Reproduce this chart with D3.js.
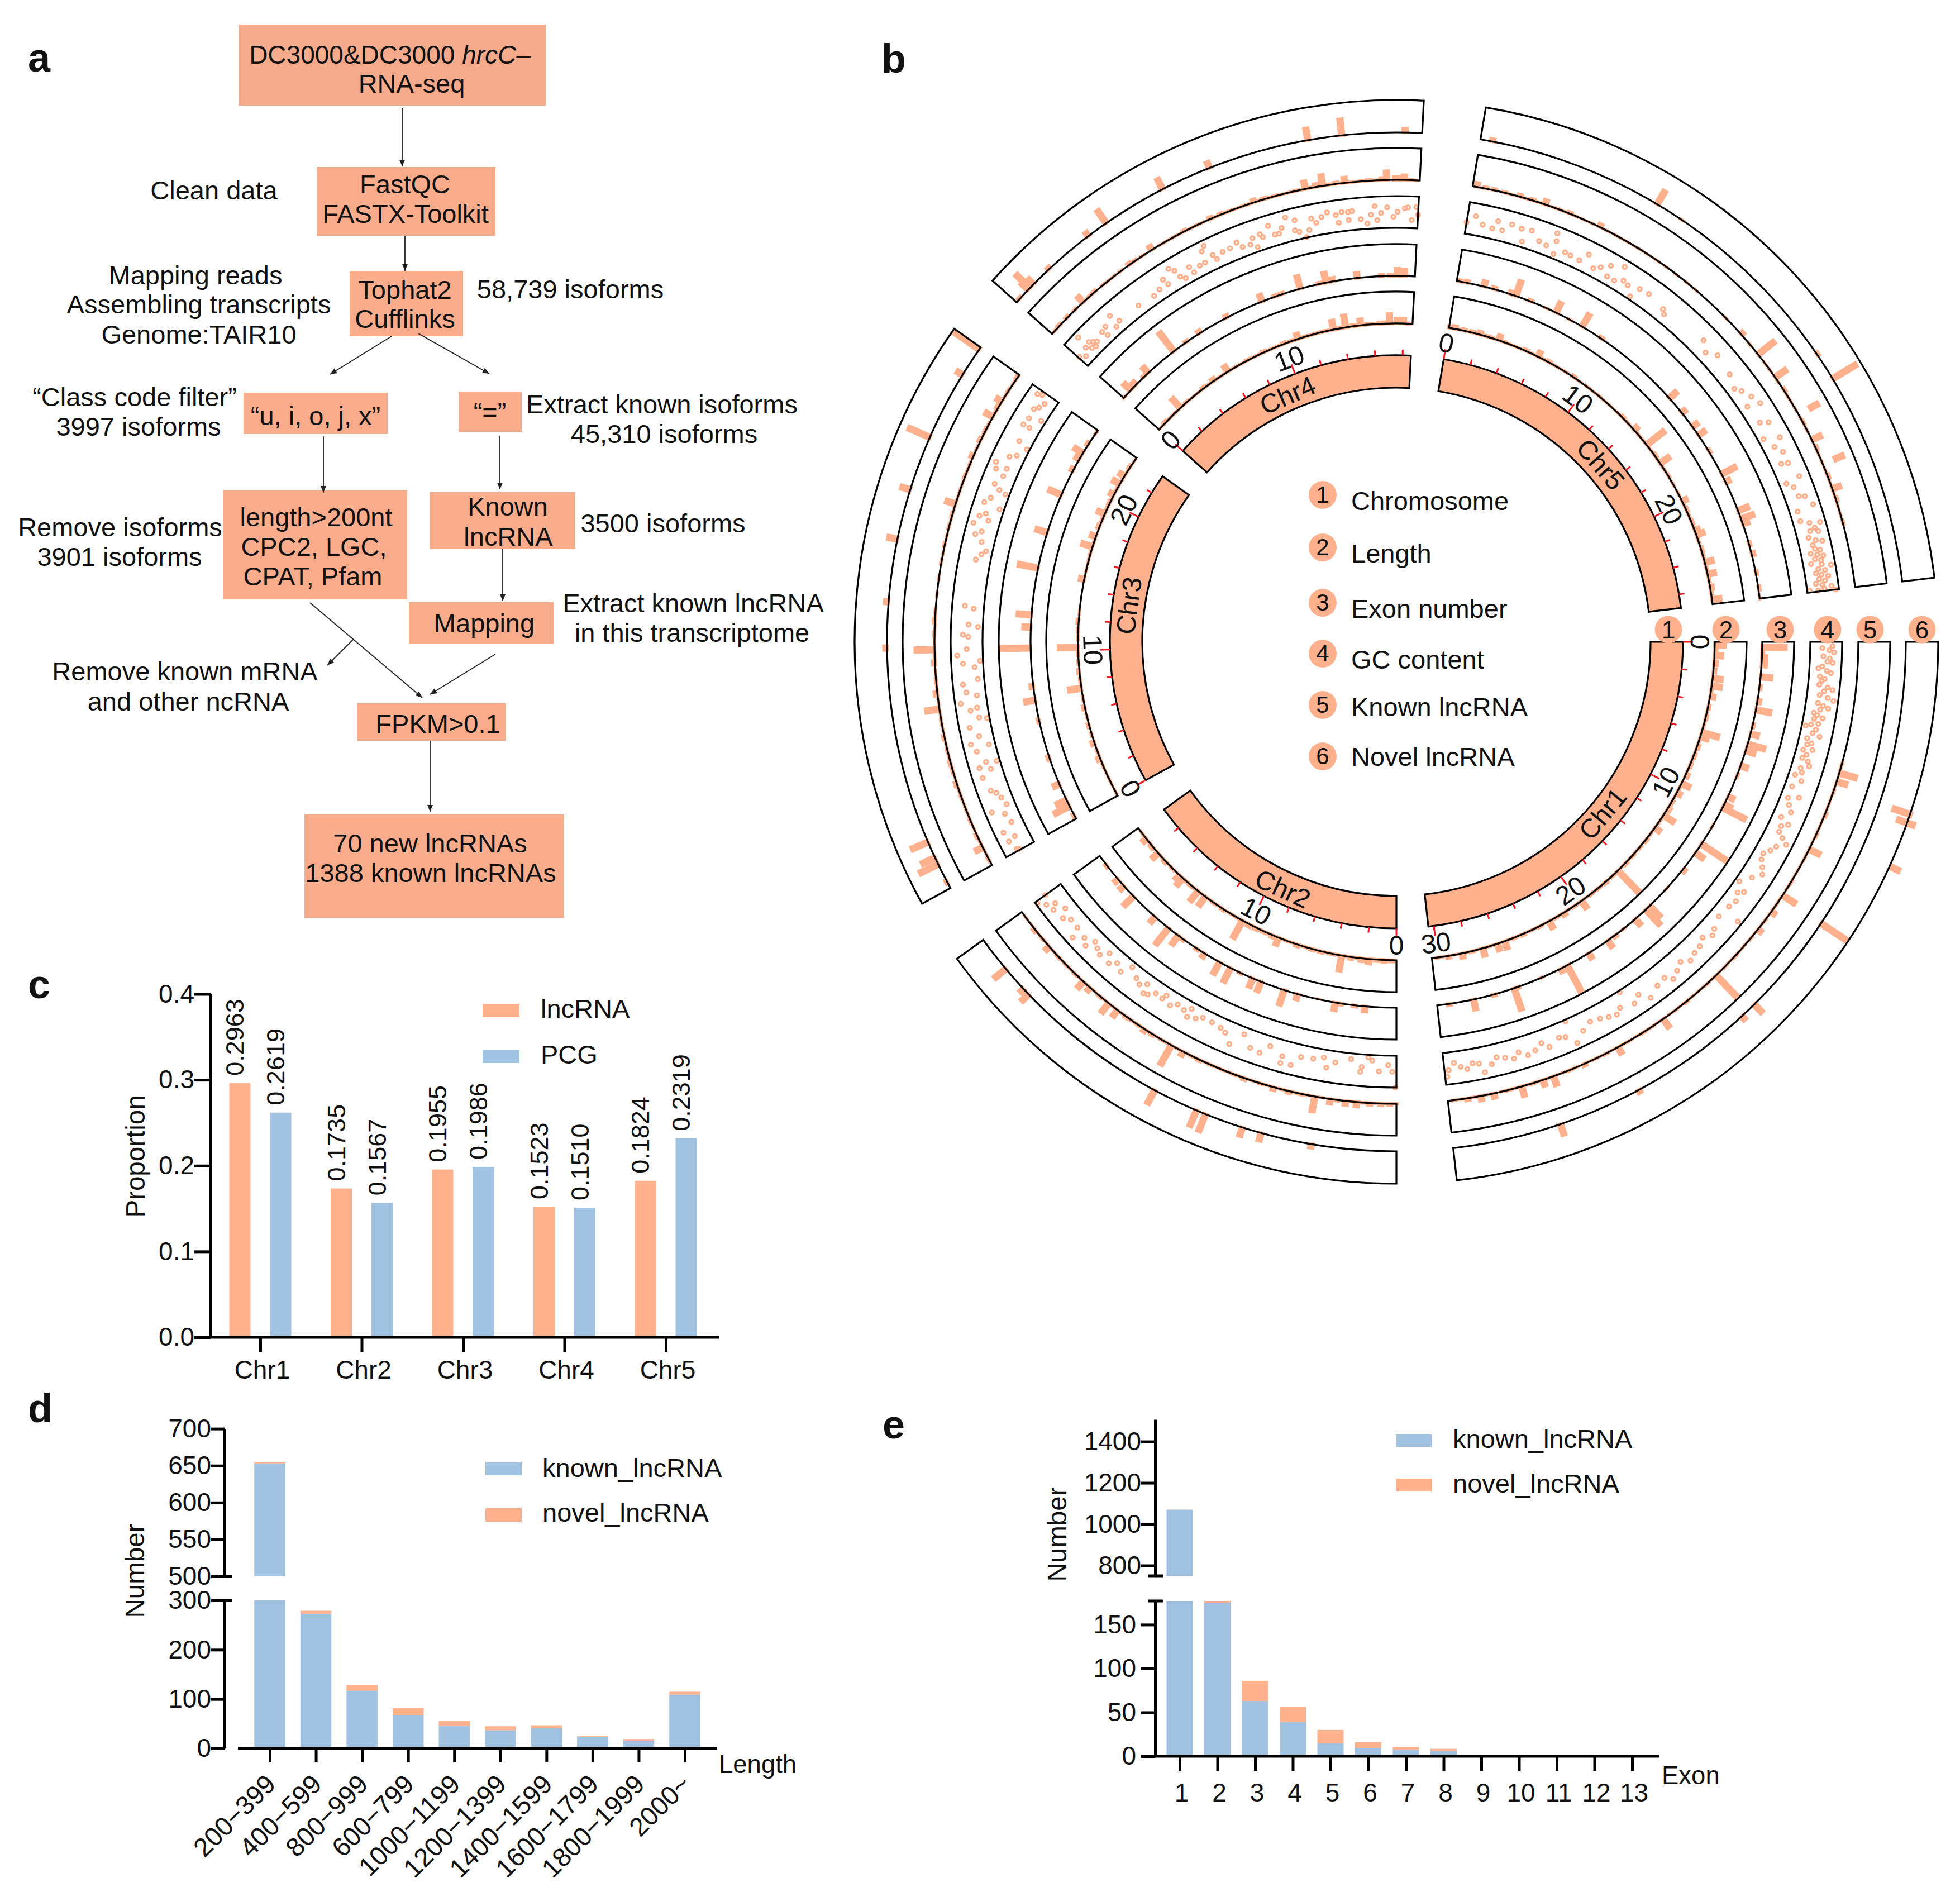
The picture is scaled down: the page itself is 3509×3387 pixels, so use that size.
<!DOCTYPE html>
<html><head><meta charset="utf-8"><style>html,body{margin:0;background:#fff}text{font-family:"Liberation Sans",Arial,sans-serif;fill:#111}</style>
<script src="https://cdn.jsdelivr.net/npm/d3@7/dist/d3.min.js"></script></head><body><svg id="c" width="3509" height="3387" xmlns="http://www.w3.org/2000/svg"></svg>
<script>
// ---------- panel c
const chrCats=["Chr1","Chr2","Chr3","Chr4","Chr5"];
const lncProp=[0.2963,0.1735,0.1955,0.1523,0.1824];
const pcgProp=[0.2619,0.1567,0.1986,0.1510,0.2319];
// ---------- panel d
const lenCats=["200−399","400−599","800−999","600−799","1000−1199","1200−1399","1400−1599","1600−1799","1800−1999","2000~"];
const lenKnown=[653,273,117,67,46,37,41,24,16,109];
const lenNovel=[2,6,12,15,10,8,6,1,3,6];
// ---------- panel e
const exonCats=["1","2","3","4","5","6","7","8","9","10","11","12","13"];
const exonKnown=[1070,175,63,39,15,9.5,7.5,6,0,0,0,0,0];
const exonNovel=[1,2,23,17,15,6.5,3,2.5,0,0,0,0,0];
// ---------- panel b: chromosomes
const chrLen=[30.4,19.7,23.45,18.6,27];
const chrStartDeg=[0,90,151.1,221.8,279.5];
const chrEndDeg=[83.6,144.2,215.3,272.9,353.2];
const legendItems=["Chromosome","Length","Exon number","GC content","Known lncRNA","Novel lncRNA"];
// track values: [Mb, height] or [Mb, low, high], heights as fraction of track range
const chr1Length=[[.2,.37],[.5,.12],[.9,.3],[1.4,.15],[1.9,.12],[2.4,.35],[2.9,.35],[3.6,.2],[4.3,.1],[5,.1],[6,.6],[6.3,.3],[7,.12],[7.6,.1],[8.3,.1],[9,.15],[9.6,.33],[10.3,.2],[11,.1],[11.5,.15],[12,.44],[13,.25],[14,.1],[14.6,.08],[15.3,.08],[16,.1],[16.7,1],[17.2,.08],[17.8,.1],[18.4,.08],[19,.08],[19.8,.33],[20.4,.08],[21.2,.15],[21.8,.08],[22.3,.3],[23,.08],[23.6,.06],[24.2,.1],[24.8,.08],[25.5,.3],[26,.27],[27,.3],[27.7,.08],[28.4,.2],[29.3,.12],[30,.06],[3.2,.08],[4.7,.06],[5.5,.07],[6.7,.06],[7.3,.06],[8,.07],[8.7,.06],[10,.07],[10.7,.06],[12.5,.07],[13.5,.06],[15,.05],[15.7,.06],[16.3,.06],[18.1,.05],[18.7,.06],[19.4,.05],[20.1,.06],[20.8,.05],[21.5,.06],[22.7,.05],[23.3,.05],[23.9,.05],[24.5,.06],[25.1,.05],[26.4,.06],[26.7,.05],[27.4,.05],[28,.06],[28.8,.05],[29.7,.05]];
const chr1Exon=[[.3,.8],[.6,.1],[.9,.2],[1.3,.2],[2,.4],[2.6,.1],[3.4,.15],[3.9,.52],[4.8,.1],[5.3,.3],[5.9,.6],[6.3,.35],[7.2,.27],[7.8,.08],[9.1,.25],[9.6,.3],[9.8,.85],[11,.05],[12.2,1],[12.8,.36],[14,.15],[15.4,.05],[16.8,.53],[17.1,.7],[17.9,.3],[18.8,.06],[19.4,.12],[19.9,.3],[21.2,.25],[22.6,1],[23,.18],[24.2,.05],[25.7,.1],[25.9,.77],[27.1,.1],[28.3,.38],[29.7,.1]];
const chr1GC=[[.2,.7],[.3,.38],[.4,.6],[.5,.75],[.7,.42],[.8,.62],[.95,.55],[1,.72],[1.2,.4],[1.3,.28],[1.4,.55],[1.5,.68],[1.7,.35],[1.8,.5],[1.9,.42],[2.1,.35],[2.2,.62],[2.3,.78],[2.4,.52],[2.6,.4],[2.7,.66],[2.8,.85],[3,.38],[3.1,.55],[3.2,.72],[3.3,.48],[3.5,.3],[3.6,.42],[3.7,.6],[3.8,.34],[4,.5],[4.1,.28],[4.2,.12],[4.3,.46],[4.5,.38],[4.6,.62],[4.8,.25],[5,.42],[5.1,.3],[5.3,.5],[5.4,.22],[5.6,.36],[5.8,.26],[5.9,.46],[6.1,.54],[6.3,.3],[6.5,.38],[6.7,.2],[6.9,.45],[7.3,.23],[7.7,.56],[7.9,.24],[8.2,.35],[8.5,.5],[8.9,.28],[9.1,.58],[9.3,.4],[9.6,.42],[9.8,.6],[10,.8],[10.3,.55],[10.6,.45],[10.9,.3],[11.2,.35],[11.5,.5],[11.8,.62],[12.2,.4],[12.7,.14],[13,.45],[13.2,.3],[13.6,.42],[14,.35],[14.3,.86],[14.7,.3],[15.3,.45],[15.6,.55],[16,.37],[16.4,.5],[16.8,.53],[17.2,.62],[17.6,.44],[18,.58],[18.4,.7],[18.7,.5],[19.2,.56],[19.8,.74],[20.2,.44],[20.6,.6],[20.9,.05],[21.3,.47],[21.6,.6],[22,.54],[22.4,.45],[22.9,.39],[23.4,.55],[23.9,.82],[24,.05],[24.3,.5],[24.6,.44],[25.2,.6],[25.5,.4],[25.9,.55],[26.3,.62],[26.7,.45],[27,.6],[27.4,.5],[27.8,.42],[28.1,.6],[28.5,.8],[28.7,.5],[29,.45],[29.3,.6],[29.6,.5],[29.9,.35],[30.2,.55],[30.3,.75]];
const chr1Known=[[5.6,.06],[6,.6],[6.4,.38],[6.9,.07],[7.4,.05],[8,.1],[8.5,.05],[9,.08],[9.7,.42],[10.2,.06],[10.8,.05],[11.4,.07],[12.1,.52],[12.6,.06],[13,.2],[13.5,.07],[14,.2],[14.5,.06],[15,.05],[15.6,.07],[16.2,.06],[16.8,1],[17.4,.07],[18,.05],[18.6,.08],[19.2,.06],[19.9,.37],[20.5,.06],[21,.07],[21.7,.06],[22.3,.28],[22.9,.07],[23.5,.06],[24,.12],[24.7,.07],[25.5,.35],[26,.25],[26.5,.07],[27,.37],[27.6,.07],[28.3,.2],[28.9,.2],[29.5,.12],[30.1,.06],[5.9,.04],[6.7,.04],[7.2,.04],[7.7,.05],[8.3,.04],[8.8,.04],[9.3,.04],[10,.04],[10.5,.04],[11.1,.04],[11.7,.05],[12.4,.04],[12.8,.05],[13.3,.04],[13.8,.04],[14.2,.04],[14.8,.04],[15.3,.05],[15.9,.04],[16.5,.04],[17.1,.05],[17.7,.04],[18.3,.05],[18.9,.04],[19.5,.05],[20.2,.04],[20.8,.05],[21.3,.04],[22,.05],[22.6,.04],[23.2,.05],[23.8,.04],[24.4,.05],[25,.05],[25.3,.04],[25.8,.05],[26.3,.05],[26.8,.05],[27.3,.05],[27.9,.05],[28.6,.05],[29.2,.05],[29.8,.05]];
const chr1Novel=[[6.75,.4,1.08],[7.1,.64,1.28],[8.9,1,1.38],[12.2,1],[16.5,.4],[17.2,.2],[22.4,.15],[25.9,.4]];
const chr2Length=[[.3,.1],[.8,.12],[1.3,.1],[1.8,.2],[2.3,.15],[3,.12],[3.6,.54],[4.2,.08],[5,.1],[5.6,.1],[6.6,.12],[7.2,.06],[7.9,.3],[8.3,.13],[8.9,.1],[9.5,.12],[10,.14],[10.5,.67],[11.2,.06],[12,.1],[12.7,.08],[13.4,.4],[14,.45],[14.6,.1],[15.3,.35],[15.6,.25],[16.2,.08],[16.9,.12],[17.6,.3],[18.2,.12],[18.8,.2],[19.3,.05],[.55,.06],[1,.06],[1.55,.06],[2,.07],[2.65,.06],[3.3,.06],[3.9,.06],[4.5,.06],[4.75,.05],[5.3,.06],[6,.06],[6.3,.06],[6.9,.05],[7.5,.06],[8.6,.07],[9.2,.08],[9.75,.08],[10.25,.07],[10.8,.07],[11.5,.06],[12.3,.05],[13,.06],[13.7,.06],[14.3,.07],[14.9,.08],[16.6,.06],[17.2,.07],[17.9,.06],[18.5,.06],[19,.06]];
const chr2Exon=[[1.8,.22],[2.4,.1],[3.2,.1],[3.5,.3],[4.5,.03],[5.7,.23],[6.5,.54],[7.9,.38],[8.4,.35],[9.2,.08],[9.8,.54],[10.5,.47],[11.5,.2],[12,.1],[13,.1],[13.3,.4],[14,.7],[15,.28],[16.7,.47],[17.5,.22],[18,.2],[19,.1]];
const chr2GC=[[.05,1],[.2,.5],[.4,.3],[.85,.5],[1.2,.17],[1.4,.08],[1.7,.4],[1.75,.55],[2.25,.18],[3,.35],[3.4,.55],[3.6,.25],[4.1,.35],[4.7,.38],[5.1,.7],[5.6,.72],[5.6,.5],[6.3,.3],[6.7,.6],[7.2,.55],[7.7,.22],[8.2,.68],[8.6,.4],[8.9,.32],[9.4,.28],[9.9,.28],[10.2,.4],[10.6,.49],[10.6,.2],[10.9,.35],[11.3,.3],[11.6,.45],[12,.25],[12.1,.4],[12.5,.38],[12.8,.55],[13,.6],[13.1,.3],[13.4,.45],[13.7,.35],[14.2,.16],[14.5,.5],[14.9,.37],[15.2,.55],[15.5,.3],[15.8,.54],[16.1,.45],[16.4,.35],[16.6,.65],[16.9,.51],[17.3,.77],[17.5,.45],[18,.44],[18.3,.6],[18.6,.35],[18.9,.67],[19.1,.5],[19.3,.75],[19.6,.95],[19.7,.6]];
const chr2Known=[[.3,.1],[.7,.1],[1.2,.12],[1.8,.2],[2.3,.18],[2.7,.08],[3,.2],[3.7,.53],[4.3,.08],[4.9,.12],[5.6,.15],[6.2,.07],[7,.12],[7.5,.07],[8,.06],[8.6,.07],[9.2,.1],[9.6,.07],[10,.2],[10.6,.75],[11.1,.07],[11.6,.1],[12,.15],[12.4,.07],[12.8,.08],[13,.1],[13.5,.3],[14,.42],[14.5,.08],[15.1,.2],[15.5,.32],[16,.08],[16.6,.07],[17.1,.08],[17.7,.22],[18.2,.07],[18.7,.12],[19.4,.05],[.05,.05],[.5,.05],[.95,.05],[1.5,.06],[2,.05],[3.4,.05],[4,.05],[4.6,.06],[5.25,.06],[5.9,.05],[6.5,.05],[6.75,.05],[7.25,.05],[7.75,.05],[8.3,.05],[8.9,.05],[9.4,.06],[9.8,.05],[10.3,.06],[10.85,.06],[11.35,.05],[11.8,.06],[12.2,.05],[12.6,.05],[13.25,.06],[13.75,.06],[14.25,.05],[14.8,.05],[15.3,.06],[15.75,.05],[16.3,.05],[16.85,.05],[17.4,.05],[17.95,.05],[18.45,.05],[19,.04]];
const chr2Novel=[[3.5,.17],[5.6,.3],[6.4,.33],[8,.62],[8.4,.58],[10.3,.52],[16.8,.35],[17.1,.2],[18.2,.5]];
const chr3Length=[[.3,.05],[1.8,.05],[2.7,.15],[3.8,.15],[5,.1],[6.2,.12],[7.5,.46],[8.6,.1],[10.2,.67],[11.9,.1],[12.5,.05],[14.7,.2],[16.9,.4],[17.6,.23],[18.3,.12],[19.2,.3],[20,.1],[20.6,.2],[21.4,.3],[22,.24],[22.7,.1],[23.2,.05],[.9,.05],[1.3,.05],[2.2,.06],[3.2,.07],[4.4,.07],[5.6,.06],[6.8,.06],[8,.07],[9.2,.07],[9.8,.07],[10.8,.06],[11.3,.07],[15.3,.05],[15.9,.06],[16.4,.07],[17.2,.07],[18.8,.08],[19.6,.08],[20.3,.07],[21,.08],[21.7,.07],[22.4,.06]];
const chr3Exon=[[.2,.1],[.8,.58],[1.2,.4],[2.2,.25],[3.8,.12],[6,.1],[7.2,.38],[8,.15],[10.2,1],[11.4,.3],[12.1,.5],[14.8,.68],[16.9,.42],[19.2,.47],[20.8,.15],[21.5,.2],[21.9,.37],[22.5,.12],[23.3,.06]];
const chr3GC=[[.05,.51],[.1,.58],[.7,.45],[.6,.69],[1.1,.72],[1.4,.35],[1.9,.43],[2.7,.34],[2.3,.26],[2.2,.79],[3,.43],[3.2,.57],[3.9,.68],[4.2,.35],[4.4,.68],[4.6,.43],[5.2,.62],[4.5,.1],[5.6,.75],[5.4,.2],[5.9,.44],[6.4,.67],[6.7,.08],[6.8,.32],[7.2,.55],[7.3,.33],[7.6,.82],[8.1,.6],[7.9,.28],[8.5,.68],[8.7,.2],[9.9,.8],[9.5,.63],[9.3,.27],[10.2,.5],[9.6,.09],[11.3,.15],[11.4,.45],[10.9,.62],[10.8,.45],[12.3,.6],[12.2,.32],[14.6,.46],[14.9,.32],[15.1,.2],[15.5,.4],[15.8,.65],[16,.48],[16.3,.8],[16.7,.68],[16.9,.51],[16.6,.37],[17.3,.14],[17.4,.67],[17.7,.52],[18.2,.35],[18.1,.12],[18.4,.56],[18.9,.4],[19.1,.7],[19.3,.39],[19.4,.79],[19.9,.47],[20.1,.28],[20.6,.09],[20.8,.42],[21.6,.56],[21.6,.34],[22,.51],[22.2,.14],[22.5,.53],[22.7,.42],[23,.34],[23.2,.7],[23.3,.56]];
const chr3Known=[[.3,.08],[.9,.3],[1.5,.1],[2.2,.08],[2.8,.06],[3.4,.07],[4,.12],[4.6,.08],[5,.1],[5.6,.07],[6.2,.1],[6.9,.07],[7.5,.48],[8.2,.15],[8.8,.07],[9.6,.12],[10.2,.66],[10.9,.07],[11.5,.1],[12,.06],[12.7,.05],[13.5,.05],[14.2,.07],[15,.08],[15.8,.07],[16.4,.08],[16.9,.37],[17.5,.06],[18.2,.08],[18.8,.07],[19.2,.15],[20,.12],[20.5,.09],[21.2,.33],[21.7,.12],[22,.25],[22.6,.08],[23.3,.1],[.6,.05],[1.2,.06],[1.85,.05],[2.5,.05],[3.1,.05],[3.7,.06],[4.3,.05],[4.8,.06],[5.3,.06],[5.9,.05],[6.55,.05],[7.2,.05],[7.85,.05],[8.5,.05],[9.2,.05],[9.9,.06],[10.55,.05],[11.2,.05],[11.8,.05],[14.6,.05],[15.4,.05],[16.1,.05],[16.65,.05],[17.2,.05],[17.85,.05],[18.5,.06],[19.6,.06],[20.25,.06],[20.8,.07],[21.45,.07],[22.3,.06],[23,.06]];
const chr3Novel=[[.3,.1],[1.1,.68],[1.4,.5],[2.1,.6],[10.3,.15],[12.2,.17],[14.8,.35],[16.9,.35],[19.2,.77],[22.1,.26],[23.35,.98]];
const chr4Length=[[.6,.1],[1.4,.06],[2,.45],[2.6,.08],[3.4,.05],[4,.1],[4.8,.15],[5.9,.27],[6.6,.06],[7.4,.08],[8.6,.1],[9.3,.06],[10,.1],[10.6,.08],[11,.23],[11.8,.07],[12.6,.08],[13.4,.35],[14.2,.44],[14.7,.1],[15.2,.25],[15.7,.08],[16.5,.1],[16.9,.1],[17.1,.35],[17.6,.2],[18,.2],[18.4,.05],[.2,.05],[1,.06],[1.7,.05],[2.3,.06],[3,.05],[3.7,.05],[4.4,.06],[5.2,.06],[5.6,.06],[6.3,.06],[7,.05],[7.8,.06],[8.2,.06],[9,.06],[9.6,.06],[10.3,.07],[11.4,.07],[12.2,.07],[13,.07],[13.7,.08],[14,.08],[14.4,.08],[15,.08],[15.5,.07],[16,.07],[16.3,.07],[17.4,.08],[17.8,.08],[18.2,.07]];
const chr4Exon=[[.1,.05],[.6,.35],[1,.2],[1.7,.1],[2,.3],[3.9,.8],[4.8,.1],[5.7,.15],[7.5,.14],[9.7,.28],[10.5,.1],[10.9,.1],[12,.47],[13.1,.1],[13.5,.38],[13.9,.17],[15.3,.22],[16.7,.1],[17.2,.1],[17.6,.28],[18,.25]];
const chr4GC=[[.05,.39],[.3,.25],[.7,.83],[.6,.44],[.9,.49],[1.05,.4],[1.2,.32],[.8,.29],[1,.23],[1.7,.42],[1.8,.23],[2,.47],[2.4,.24],[2.5,.63],[2.7,.32],[3.9,.31],[4.8,.27],[5.2,.34],[5.6,.53],[5.7,.33],[6.1,.73],[6.3,.58],[6.4,.33],[6.6,.2],[7,.45],[7.1,.23],[7.5,.33],[7.8,.34],[7.9,.7],[8.1,.83],[8.3,.45],[8.4,.28],[8.8,.41],[9.2,.42],[9.6,.51],[9.8,.31],[10.2,.29],[10.5,.14],[10.4,.46],[10.9,.39],[10.8,.5],[11.3,.67],[11.5,.35],[11.7,.34],[11.9,.49],[12.2,.78],[12.6,.62],[12.5,.31],[13,.02],[13.2,.22],[12.7,.23],[13.4,.56],[13.6,.4],[13.9,.55],[14.2,.66],[14.6,.54],[14.7,.29],[14.9,.61],[15.2,.58],[15.2,.33],[15.4,.6],[15.8,.32],[16.1,.17],[16.3,.44],[16.5,.7],[16.6,.26],[16.8,.48],[17.1,.65],[17.4,.35],[17.6,.51],[17.95,.62],[18.1,.65],[18.3,.26],[18.5,.67],[18.6,.43]];
const chr4Known=[[.2,.06],[.5,.1],[1,.1],[1.5,.07],[2,.3],[2.4,.08],[2.7,.1],[3.2,.06],[3.8,.06],[4.2,.06],[4.7,.12],[5,.08],[5.4,.06],[5.9,.2],[6.4,.05],[7,.06],[7.6,.1],[8.2,.06],[8.9,.12],[9.4,.1],[9.9,.06],[10.4,.06],[11,.15],[11.5,.1],[12,.07],[12.6,.05],[13,.07],[13.4,.3],[13.9,.15],[14.2,.4],[14.8,.1],[15.2,.22],[15.7,.05],[16.3,.08],[16.9,.12],[17.1,.33],[17.5,.15],[17.7,.15],[17.9,.2],[18.4,.05],[3.5,.05],[6.7,.05],[7.3,.05],[7.9,.05],[8.5,.05],[9.15,.06],[9.65,.06],[10.15,.05],[10.7,.06],[11.25,.07],[11.75,.06],[12.3,.05],[12.8,.06],[13.2,.06],[13.65,.07],[14.5,.07],[15,.06],[15.45,.06],[16,.06],[16.6,.06],[18.15,.06]];
const chr4Novel=[[.2,.1],[.7,.35],[.8,.65],[1,.3],[1.9,.13],[4,.2],[4.9,.53],[7.6,.41],[9.7,.25],[13.9,.42],[15.3,.55],[17.9,.17]];
const chr5Length=[[.1,.1],[.4,.14],[1,.1],[1.6,.1],[2.1,.15],[2.7,.08],[3.4,.22],[3.7,.08],[4.4,.05],[5.3,.1],[6.2,.23],[7,.1],[7.8,.05],[8.9,.1],[10,.06],[11,.06],[12,.05],[13.1,.1],[14.2,.2],[15.5,.75],[16.4,.1],[17,.4],[18,.08],[19.9,.22],[20.5,.1],[21.4,.1],[22,.2],[22.3,.3],[23.3,.1],[24.2,.32],[25,.3],[25.9,.15],[26.7,.33],[.7,.06],[1.3,.06],[1.85,.07],[2.4,.07],[3,.07],[4,.06],[4.8,.05],[5.7,.06],[6.6,.07],[7.4,.06],[8.3,.06],[9.4,.05],[10.5,.05],[11.5,.05],[12.6,.05],[13.6,.06],[14.7,.06],[15.1,.06],[15.9,.06],[16.7,.06],[17.5,.06],[18.6,.06],[19.3,.06],[20.2,.06],[21,.07],[21.7,.07],[22.7,.07],[23.7,.08],[24.6,.08],[25.4,.08],[26.2,.08]];
const chr5Exon=[[.2,.1],[.6,.12],[1.6,.23],[2.2,.12],[3.2,.15],[3.5,.55],[4.4,.1],[5.4,.05],[6,.4],[6.9,.05],[7.7,.5],[9,.1],[14.2,.35],[15.3,.2],[16.3,.25],[16.9,.3],[18,.1],[19.5,.55],[20,.2],[21.8,.4],[22.3,.47],[22.6,.25],[23.8,.1],[24.4,.15],[25.5,.1],[26.4,.1],[26.9,.05]];
const chr5GC=[[0,.36],[.4,.6],[.8,.38],[1.3,.33],[1.5,.59],[1.8,.34],[2.2,.6],[2.7,.56],[2.9,.18],[3.2,.6],[3.7,.36],[4.1,.31],[4.4,.79],[4.5,.55],[4.6,.14],[5.1,.33],[5.4,.31],[5.9,.29],[6.2,.58],[6.7,.26],[7.4,.6],[7,.4],[7.5,.25],[8,.79],[7.9,.25],[8.3,.4],[8.6,.35],[9,.1],[9.2,.46],[9.7,.5],[10.7,.39],[10.9,.28],[13.2,.52],[13.7,.3],[14.2,.52],[15.3,.42],[16,.26],[16.3,.4],[16.8,.55],[17.3,.67],[17.1,.27],[18.1,.33],[18.3,.57],[19.2,.65],[18.9,.17],[19.5,.36],[19.9,.53],[20.5,.52],[20.4,.32],[21.4,.22],[21.3,.68],[21.7,.39],[22.2,.44],[22.3,.62],[22.8,.78],[22.9,.25],[23.4,.24],[23.6,.5],[23.7,.83],[23.9,.62],[24,.45],[24.1,.7],[24.3,.35],[24.5,.55],[24.6,.75],[24.7,.42],[24.9,.47],[25,.62],[25.1,.3],[25.2,.5],[25.3,.68],[25.4,.4],[25.5,.58],[25.6,.25],[25.7,.58],[25.8,.86],[25.9,.45],[26,.65],[26.1,.35],[26.2,.52],[26.3,.72],[26.4,.42],[26.5,.6],[26.6,.3],[26.7,.5],[26.8,.78],[26.9,.08],[26.9,.55],[27,.9],[26.95,.35]];
const chr5Known=[[.2,.18],[.6,.1],[1,.1],[1.5,.08],[2.2,.12],[2.8,.1],[3.4,.2],[4,.06],[4.6,.1],[4.9,.05],[6.1,.15],[6.9,.05],[7.5,.04],[8.2,.05],[9.1,.05],[9.6,.05],[10.8,.05],[13.2,.05],[14.2,.15],[15.4,.7],[16.3,.05],[16.7,.47],[17.4,.1],[18,.05],[19.1,.08],[20,.37],[20.4,.1],[21.2,.35,.75],[18.7,.35,.75],[21.8,.1],[22.4,.32],[22.9,.1],[24,.08],[1.8,.05],[2.5,.05],[3.1,.05],[3.8,.05],[4.3,.05],[5.3,.04],[5.7,.05],[6.5,.05],[7.2,.04],[7.9,.04],[8.6,.04],[10.2,.04],[11.3,.04],[14.8,.05],[15.9,.05],[16.9,.05],[17.7,.05],[18.4,.05],[18.9,.05],[19.5,.05],[20.7,.05],[21.1,.05],[21.5,.05],[22.1,.05],[22.6,.05],[23.2,.05],[23.6,.05]];
const chr5Novel=[[.5,.13],[7.8,.52],[9,.05],[16.9,.1],[18.1,.9]];
const tickStepMb=2;
// ---------- colours
const ORANGE="#ffb08c",BLUE="#a2c2e1",RED="#ee1c25",BOX="#f8ac8b";

const svg=d3.select("#c");
function T(x,y,s,o={}){const t=svg.append("text").attr("x",x).attr("y",y).attr("font-size",o.fs||47).attr("text-anchor",o.a||"middle").text(s);
 if(o.w)t.attr("font-weight",o.w); if(o.rot!==undefined)t.attr("transform",`rotate(${o.rot} ${x} ${y})`); if(o.dy)t.attr("dy",o.dy); return t;}

// ========= panel a: flowchart
const flowBoxes=[[428,44,977,189,"#f4aa8b"],[567,299,887,422],[626,485,829,602],[436,703,694,777],[821,701,934,773],[400,878,729,1073],[770,881,1029,983],[732,1078,991,1152],[639,1259,906,1326],[545,1458,1010,1643]];
flowBoxes.forEach(b=>svg.append("rect").attr("x",b[0]).attr("y",b[1]).attr("width",b[2]-b[0]).attr("height",b[3]-b[1]).attr("fill",b[4]||BOX));
const flowArrows=[[720,193,720,298],[725,422,725,485],[701,602,591,670],[749,597,876,669],[579,781,579,882],[895,781,895,876],[900,983,900,1076],[555,1079,756,1249],[632,1145,586,1191],[887,1171,770,1243],[770,1326,770,1453]];
flowArrows.forEach(a=>{const ang=Math.atan2(a[3]-a[1],a[2]-a[0]),L=12,W=5;
 svg.append("line").attr("x1",a[0]).attr("y1",a[1]).attr("x2",a[2]).attr("y2",a[3]).attr("stroke","#222").attr("stroke-width",1.8);
 const p=[[a[2],a[3]],[a[2]-L*Math.cos(ang)+W*Math.sin(ang),a[3]-L*Math.sin(ang)-W*Math.cos(ang)],[a[2]-L*Math.cos(ang)-W*Math.sin(ang),a[3]-L*Math.sin(ang)+W*Math.cos(ang)]];
 svg.append("polygon").attr("points",p.join(" ")).attr("fill","#222");});
const first=T(698,114,"DC3000&DC3000 ",{fs:46});first.append("tspan").attr("font-style","italic").text("hrcC–");
const flowTexts=[[737,166,"RNA-seq"],[725,346,"FastQC"],[726,399,"FASTX-Toolkit"],[383,357,"Clean data"],[350,509,"Mapping reads"],[356,561,"Assembling transcripts"],[356,615,"Genome:TAIR10"],[725,535,"Tophat2"],[725,587,"Cufflinks"],[1021,534,"58,739 isoforms"],[241,727,"“Class code filter”"],[248,780,"3997 isoforms"],[565,761,"“u, i, o, j, x”"],[877,754,"“=”"],[1185,740,"Extract known isoforms"],[1189,793,"45,310 isoforms"],[215,960,"Remove isoforms"],[214,1013,"3901 isoforms"],[566,942,"length>200nt"],[562,995,"CPC2, LGC,"],[560,1048,"CPAT, Pfam"],[909,923,"Known"],[910,977,"lncRNA"],[1187,953,"3500 isoforms"],[867,1132,"Mapping"],[1241,1096,"Extract known lncRNA"],[1239,1149,"in this transcriptome"],[331,1218,"Remove known mRNA"],[337,1272,"and other ncRNA"],[784,1312,"FPKM>0.1"],[770,1526,"70 new lncRNAs"],[771,1579,"1388 known lncRNAs"]];
flowTexts.forEach(t=>T(t[0],t[1],t[2]));
[["a",50,128],["b",1578,130],["c",50,1787],["d",50,2546],["e",1580,2575]].forEach(l=>T(l[1],l[2],l[0],{fs:72,w:"bold",a:"start"}));

// ========= panel b: circos
const CX=2500,CY=1149;
const trackRanges=[[455,513],[570,627],[655,712],[741,798],[827,884],[912,970]];
const radial=trackRanges.map(r=>d3.scaleLinear().domain([0,1]).range(r));
const angle=chrLen.map((l,i)=>d3.scaleLinear().domain([0,l]).range([chrStartDeg[i],chrEndDeg[i]]));
const pol=(deg,r)=>{const a=deg*Math.PI/180;return [CX+r*Math.cos(a),CY+r*Math.sin(a)];};
const gB=svg.append("g"),gB2=svg.append("g");
const arc=d3.arc();
const barSets=[[chr1Length,chr2Length,chr3Length,chr4Length,chr5Length],[chr1Exon,chr2Exon,chr3Exon,chr4Exon,chr5Exon],null,[chr1Known,chr2Known,chr3Known,chr4Known,chr5Known],[chr1Novel,chr2Novel,chr3Novel,chr4Novel,chr5Novel]];
barSets.forEach((set,k)=>{ if(!set)return; const rs=radial[k+1];
 set.forEach((rows,c)=>{gB.selectAll(null).data(rows).enter().append("line").each(function(d){
  const lo=d.length>2?d[1]:0,hi=d.length>2?d[2]:d[1],A=angle[c](d[0]);
  const p0=pol(A,rs(lo)-(d.length>2?0:3)),p1=pol(A,rs(hi));
  d3.select(this).attr("x1",p0[0]).attr("y1",p0[1]).attr("x2",p1[0]).attr("y2",p1[1]);
 }).attr("stroke",ORANGE).attr("stroke-width",13).attr("stroke-linecap","butt");});});
[chr1GC,chr2GC,chr3GC,chr4GC,chr5GC].forEach((rows,c)=>{gB2.selectAll(null).data(rows).enter().append("circle").each(function(d){
 const p=pol(angle[c](d[0]),radial[3](d[1]));d3.select(this).attr("cx",p[0]).attr("cy",p[1]);
}).attr("r",3.5).attr("fill","none").attr("stroke",ORANGE).attr("stroke-width",3.6);});
const rad=d=>(d+90)*Math.PI/180;
chrLen.forEach((l,c)=>{ trackRanges.forEach((r,k)=>{
  svg.append("path").attr("transform",`translate(${CX},${CY})`)
   .attr("d",arc({innerRadius:r[0],outerRadius:r[1],startAngle:rad(chrStartDeg[c]),endAngle:rad(chrEndDeg[c])}))
   .attr("fill",k==0?ORANGE:"none").attr("stroke","#000").attr("stroke-width",3.2);
 });
 // ticks
 d3.range(0,l,tickStepMb).forEach(m=>{const A=angle[c](m),maj=m%10==0;
  const p0=pol(A,513),p1=pol(A,maj?531:523);
  svg.append("line").attr("x1",p0[0]).attr("y1",p0[1]).attr("x2",p1[0]).attr("y2",p1[1]).attr("stroke",RED).attr("stroke-width",3);
  if(maj){const q=pol(A,543),rot=(A>=180)?A-270:A-90;
   T(q[0],q[1],String(m),{fs:48,rot,dy:"0.36em"});}
 });
});
const chrLabelDeg=[39.8,114.7,187.7,246.2,319],chrLabelR=[480,486,484,483,485];
chrCats.forEach((n,i)=>{const A=chrLabelDeg[i],q=pol(A,chrLabelR[i]);T(q[0],q[1],n,{fs:47.5,rot:A>=180?A-270:A-90,dy:"0.36em"});});
const trackBadgeX=[2987,3090,3187,3272,3348,3441];
trackBadgeX.forEach((x,i)=>{svg.append("circle").attr("cx",x).attr("cy",1127).attr("r",24.5).attr("fill",ORANGE);T(x,1143,String(i+1),{fs:44});});
const legendY=[886,980,1079,1170,1262,1354],legendTextY=[913,1007,1106,1197,1282,1371];
legendItems.forEach((s,i)=>{svg.append("circle").attr("cx",2368).attr("cy",legendY[i]).attr("r",25).attr("fill",ORANGE);
 T(2368,legendY[i]+14,String(i+1),{fs:42});T(2419,legendTextY[i],s,{a:"start"});});

// helpers for axes
function styleAxis(g,w){g.selectAll("path.domain").attr("stroke","#000").attr("stroke-width",w);g.selectAll(".tick line").attr("stroke","#000").attr("stroke-width",w);g.selectAll("text").attr("font-size",46).attr("font-family",'"Liberation Sans",Arial,sans-serif').attr("fill","#111");}
function legend(rows,x0,x1,tx){rows.forEach(r=>{svg.append("rect").attr("x",x0).attr("y",r[1]).attr("width",x1-x0).attr("height",r[2]-r[1]).attr("fill",r[3]);T(tx,r[4],r[0],{a:"start",fs:47});});}

// ========= panel c
{const y=d3.scaleLinear().domain([0,0.4]).range([2394,1779.5]);
 const x=d3.scalePoint().domain(chrCats).range([466,1192]);
 chrCats.forEach((c,i)=>{[[lncProp[i],-36.5,ORANGE],[pcgProp[i],36.5,BLUE]].forEach(([v,o,col])=>{
  const cx=x(c)+o;svg.append("rect").attr("x",cx-19).attr("width",38).attr("y",y(v)).attr("height",y(0)-y(v)).attr("fill",col);
  T(cx+7,y(v)-13,v.toFixed(4),{a:"start",fs:45,rot:-90});});});
 const ga=svg.append("g").attr("transform","translate(377,0)").call(d3.axisLeft(y).tickValues([0,.1,.2,.3,.4]).tickFormat(d3.format(".1f")).tickSize(29).tickPadding(0).tickSizeOuter(0));styleAxis(ga,5);
 svg.append("line").attr("x1",374).attr("x2",1287).attr("y1",2394).attr("y2",2394).attr("stroke","#000").attr("stroke-width",5);
 const gx=svg.append("g").attr("transform","translate(0,2394)").call(d3.axisBottom(x).tickSize(26).tickPadding(15).tickSizeOuter(0));styleAxis(gx,5);gx.select("path.domain").remove();
 gx.selectAll("text").attr("dx",3);
 T(259,2070,"Proportion",{fs:47.5,rot:-90});
 legend([["lncRNA",1797,1821,ORANGE,1822],["PCG",1880,1903,BLUE,1904]],864,930,968);
}
// broken stacked chart
function broken(o){
 const yU=d3.scaleLinear().domain(o.uDom).range(o.uRng),yL=d3.scaleLinear().domain(o.lDom).range(o.lRng);
 const x=d3.scalePoint().domain(o.cats).range(o.xr);
 o.cats.forEach((c,i)=>{const k=o.known[i],t=k+o.novel[i];
  [[yL,o.lDom],[yU,o.uDom]].forEach(([s,dm])=>{
   const seg=(a,b,col)=>{const lo=Math.max(a,dm[0]),hi=Math.min(b,dm[1]);if(hi<=lo)return;
    svg.append("rect").attr("x",x(c)-o.bw/2).attr("width",o.bw).attr("y",s(hi)).attr("height",s(lo)-s(hi)).attr("fill",col);};
   seg(0,k,BLUE);seg(k,t,ORANGE);});});
 const a1=svg.append("g").attr("transform",`translate(${o.ax},0)`).call(d3.axisLeft(yU).tickValues(o.uT).tickFormat(d3.format("d")).tickSize(o.ts).tickPadding(0).tickSizeOuter(0));styleAxis(a1,5);
 const a2=svg.append("g").attr("transform",`translate(${o.ax},0)`).call(d3.axisLeft(yL).tickValues(o.lT).tickFormat(d3.format("d")).tickSize(o.ts).tickPadding(o.lpad||0).tickSizeOuter(0));styleAxis(a2,5);
 [o.uRng[0],o.lRng[1]].forEach(yy=>svg.append("line").attr("x1",o.ax-o.ts/2).attr("x2",o.ax+14).attr("y1",yy).attr("y2",yy).attr("stroke","#000").attr("stroke-width",5));
 svg.append("line").attr("x1",o.x0).attr("x2",o.x1).attr("y1",o.lRng[0]).attr("y2",o.lRng[0]).attr("stroke","#000").attr("stroke-width",5);
 const gx=svg.append("g").attr("transform",`translate(0,${o.lRng[0]})`).call(d3.axisBottom(x).tickSize(o.xts).tickPadding(o.xpad).tickSizeOuter(0));styleAxis(gx,5);gx.select("path.domain").remove();
 return gx;
}
// ========= panel d
{const gx=broken({cats:lenCats,known:lenKnown,novel:lenNovel,uDom:[500,700],uRng:[2822,2557.6],lDom:[0,300],lRng:[3130,2865],uT:[550,600,650,700,500],lT:[0,100,200,300],xr:[483,1226],bw:55.5,ax:402,ts:24,x0:426,x1:1284,xts:25,xpad:12});
 gx.selectAll("text").attr("text-anchor","end").attr("transform","translate(-30,24) rotate(-45)").attr("dy","0.5em").attr("font-size",47);
 T(1287,3174,"Length",{a:"start",fs:45.5});T(258,2812,"Number",{fs:47.5,rot:-90});
 legend([["known_lncRNA",2618,2641,BLUE,2644],["novel_lncRNA",2700,2724,ORANGE,2724]],869,934,971);
}
// ========= panel e
{const gx=broken({cats:exonCats,known:exonKnown,novel:exonNovel,uDom:[750,1507],uRng:[2821,2541],lDom:[0,177],lRng:[3144,2866],uT:[800,1000,1200,1400],lT:[0,50,100,150],xr:[2112,2922],bw:47,ax:2068,ts:25,lpad:9,x0:2043,x1:2970,xts:26,xpad:22});
 gx.selectAll("text").attr("dx",3);
 T(2975,3194,"Exon",{a:"start",fs:45.5});T(1909,2747,"Number",{fs:47.5,rot:-90});
 legend([["known_lncRNA",2567,2590,BLUE,2592],["novel_lncRNA",2647,2670,ORANGE,2672]],2499,2563,2601);
}
</script></body></html>
